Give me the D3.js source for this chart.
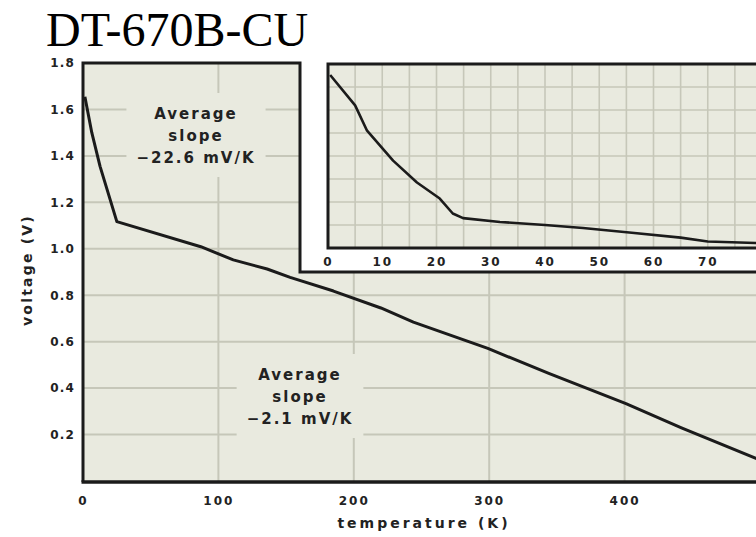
<!DOCTYPE html>
<meta charset="utf-8">
<style>
body{ margin:0; background:#fff; }
.tick text{ font-family:"DejaVu Sans", Verdana, sans-serif; font-weight:bold; fill:#222; }
</style>
<body>
<svg id="chart" width="756" height="537"></svg>
<script src="https://cdn.jsdelivr.net/npm/d3@7"></script>
<script>
// main curve: temperature (K) vs voltage (V)
var mainTemp = [1.4, 6.5, 12.6, 25, 87, 111, 136, 153, 185, 220, 244, 299, 344, 401, 442, 500];
var mainVolt = [1.655, 1.50, 1.355, 1.117, 1.009, 0.952, 0.913, 0.877, 0.818, 0.745, 0.684, 0.571, 0.463, 0.333, 0.229, 0.09];

// inset: 0-80 K zoom
var insetTemp = [0.4, 5, 7.2, 12, 16.4, 20.6, 23, 24.9, 31.7, 40, 47, 56, 65, 70, 78.8, 80];
var insetVolt = [1.752, 1.62, 1.51, 1.38, 1.285, 1.215, 1.15, 1.13, 1.113, 1.10, 1.087, 1.066, 1.045, 1.028, 1.022, 1.02];

var xTicks = [0, 100, 200, 300, 400];
var yTicks = [0.2, 0.4, 0.6, 0.8, 1.0, 1.2, 1.4, 1.6, 1.8];
var insetXTicks = [0, 10, 20, 30, 40, 50, 60, 70];

var bg = "#e9eadf";
var grid = "#c6c7b9";
var ink = "#1b1b1b";

var svg = d3.select("#chart");

var x = d3.scaleLinear().domain([0, 500]).range([83, 760]);
var y = d3.scaleLinear().domain([0, 1.8]).range([481, 63]);

var ix = d3.scaleLinear().domain([0, 80]).range([328, 762]);
var iy = d3.scaleLinear().domain([1.0, 1.8]).range([248, 64]);

// title
svg.append("text")
  .attr("x", 46).attr("y", 46)
  .attr("font-family", "Liberation Serif, Times New Roman, serif")
  .attr("font-size", "48px")
  .attr("fill", "#000")
  .text("DT-670B-CU");

// main plot background
svg.append("rect")
  .attr("x", x(0)).attr("y", y(1.8))
  .attr("width", x(500) - x(0)).attr("height", y(0) - y(1.8))
  .attr("fill", bg);

// grid
svg.selectAll(".hgrid")
  .data(yTicks.slice(0, -1))
  .enter().append("line")
  .attr("x1", x(0)).attr("x2", x(500))
  .attr("y1", function (d) { return y(d); })
  .attr("y2", function (d) { return y(d); })
  .attr("stroke", grid).attr("stroke-width", 2);

svg.selectAll(".vgrid")
  .data(xTicks.slice(1))
  .enter().append("line")
  .attr("x1", function (d) { return x(d); })
  .attr("x2", function (d) { return x(d); })
  .attr("y1", y(1.8)).attr("y2", y(0))
  .attr("stroke", grid).attr("stroke-width", 2);

// annotations with background boxes
function note(cx, cy, lines) {
  var g = svg.append("g");
  var box = g.append("rect").attr("fill", bg);
  var t = g.append("text")
    .attr("font-family", "DejaVu Sans, Verdana, sans-serif")
    .attr("font-weight", "bold")
    .attr("font-size", "15px")
    .attr("letter-spacing", "2px")
    .attr("fill", "#222")
    .attr("text-anchor", "middle");
  lines.forEach(function (s, i) {
    t.append("tspan").attr("x", cx).attr("y", cy + i * 22).text(s);
  });
  var b = t.node().getBBox();
  box.attr("x", b.x - 10).attr("y", b.y - 12)
    .attr("width", b.width + 20).attr("height", b.height + 22);
}
note(196, 119, ["Average", "slope", "\u221222.6 mV/K"]);
note(300, 380, ["Average", "slope", "\u22122.1 mV/K"]);

// main curve
var mainData = mainTemp.map(function (t, i) { return [t, mainVolt[i]]; });
svg.append("path")
  .datum(mainData)
  .attr("fill", "none")
  .attr("stroke", ink)
  .attr("stroke-width", 3)
  .attr("stroke-linejoin", "round")
  .attr("d", d3.line().x(function (d) { return x(d[0]); }).y(function (d) { return y(d[1]); }));

// white cut-out for the inset
svg.append("rect")
  .attr("x", 300).attr("y", 55)
  .attr("width", 470).attr("height", 272 - 55)
  .attr("fill", "#fff");

// main frame
svg.append("path")
  .attr("d", "M" + x(0) + "," + (y(0) + 1) + "V" + y(1.8) + "H300V272H760")
  .attr("fill", "none").attr("stroke", ink).attr("stroke-width", 3);
svg.append("line")
  .attr("x1", x(0) - 1.5).attr("x2", 760)
  .attr("y1", y(0) + 1).attr("y2", y(0) + 1)
  .attr("stroke", ink).attr("stroke-width", 3.5);

// inset plot
svg.append("rect")
  .attr("x", ix(0)).attr("y", iy(1.8))
  .attr("width", ix(80) - ix(0)).attr("height", iy(1.0) - iy(1.8))
  .attr("fill", bg);

svg.selectAll(".ivgrid")
  .data(d3.range(5, 80, 5))
  .enter().append("line")
  .attr("x1", function (d) { return ix(d); })
  .attr("x2", function (d) { return ix(d); })
  .attr("y1", iy(1.8)).attr("y2", iy(1.0))
  .attr("stroke", grid).attr("stroke-width", 1.6);

svg.selectAll(".ihgrid")
  .data(d3.range(1.1, 1.75, 0.1))
  .enter().append("line")
  .attr("x1", ix(0)).attr("x2", ix(80))
  .attr("y1", function (d) { return iy(d); })
  .attr("y2", function (d) { return iy(d); })
  .attr("stroke", grid).attr("stroke-width", 1.6);

var insetData = insetTemp.map(function (t, i) { return [t, insetVolt[i]]; });
svg.append("path")
  .datum(insetData)
  .attr("fill", "none")
  .attr("stroke", ink)
  .attr("stroke-width", 2.6)
  .attr("stroke-linejoin", "round")
  .attr("d", d3.line().x(function (d) { return ix(d[0]); }).y(function (d) { return iy(d[1]); }));

svg.append("rect")
  .attr("x", ix(0)).attr("y", iy(1.8))
  .attr("width", ix(80) - ix(0)).attr("height", iy(1.0) - iy(1.8))
  .attr("fill", "none").attr("stroke", ink).attr("stroke-width", 3);

// axes
var xAxis = svg.append("g")
  .attr("transform", "translate(0," + y(0) + ")")
  .call(d3.axisBottom(x).tickValues(xTicks).tickSize(0).tickPadding(15));
xAxis.select(".domain").remove();
xAxis.selectAll("text").attr("font-size", "12px").attr("letter-spacing", "2px");

var yAxis = svg.append("g")
  .attr("transform", "translate(" + x(0) + ",0)")
  .call(d3.axisLeft(y).tickValues(yTicks).tickFormat(d3.format(".1f")).tickSize(0).tickPadding(8));
yAxis.select(".domain").remove();
yAxis.selectAll("text").attr("font-size", "12px").attr("letter-spacing", "1.2px");

var iAxis = svg.append("g")
  .attr("transform", "translate(0," + iy(1.0) + ")")
  .call(d3.axisBottom(ix).tickValues(insetXTicks).tickSize(0).tickPadding(9));
iAxis.select(".domain").remove();
iAxis.selectAll("text").attr("font-size", "12px").attr("letter-spacing", "2px");

// axis titles
svg.append("text")
  .attr("x", 424).attr("y", 528)
  .attr("text-anchor", "middle")
  .attr("font-family", "DejaVu Sans, Verdana, sans-serif")
  .attr("font-weight", "bold")
  .attr("font-size", "14px")
  .attr("letter-spacing", "3px")
  .attr("fill", "#222")
  .text("temperature (K)");

svg.append("text")
  .attr("transform", "translate(32,270) rotate(-90)")
  .attr("text-anchor", "middle")
  .attr("font-family", "DejaVu Sans, Verdana, sans-serif")
  .attr("font-weight", "bold")
  .attr("font-size", "14px")
  .attr("letter-spacing", "2.2px")
  .attr("fill", "#222")
  .text("voltage (V)");
</script>
</body>
